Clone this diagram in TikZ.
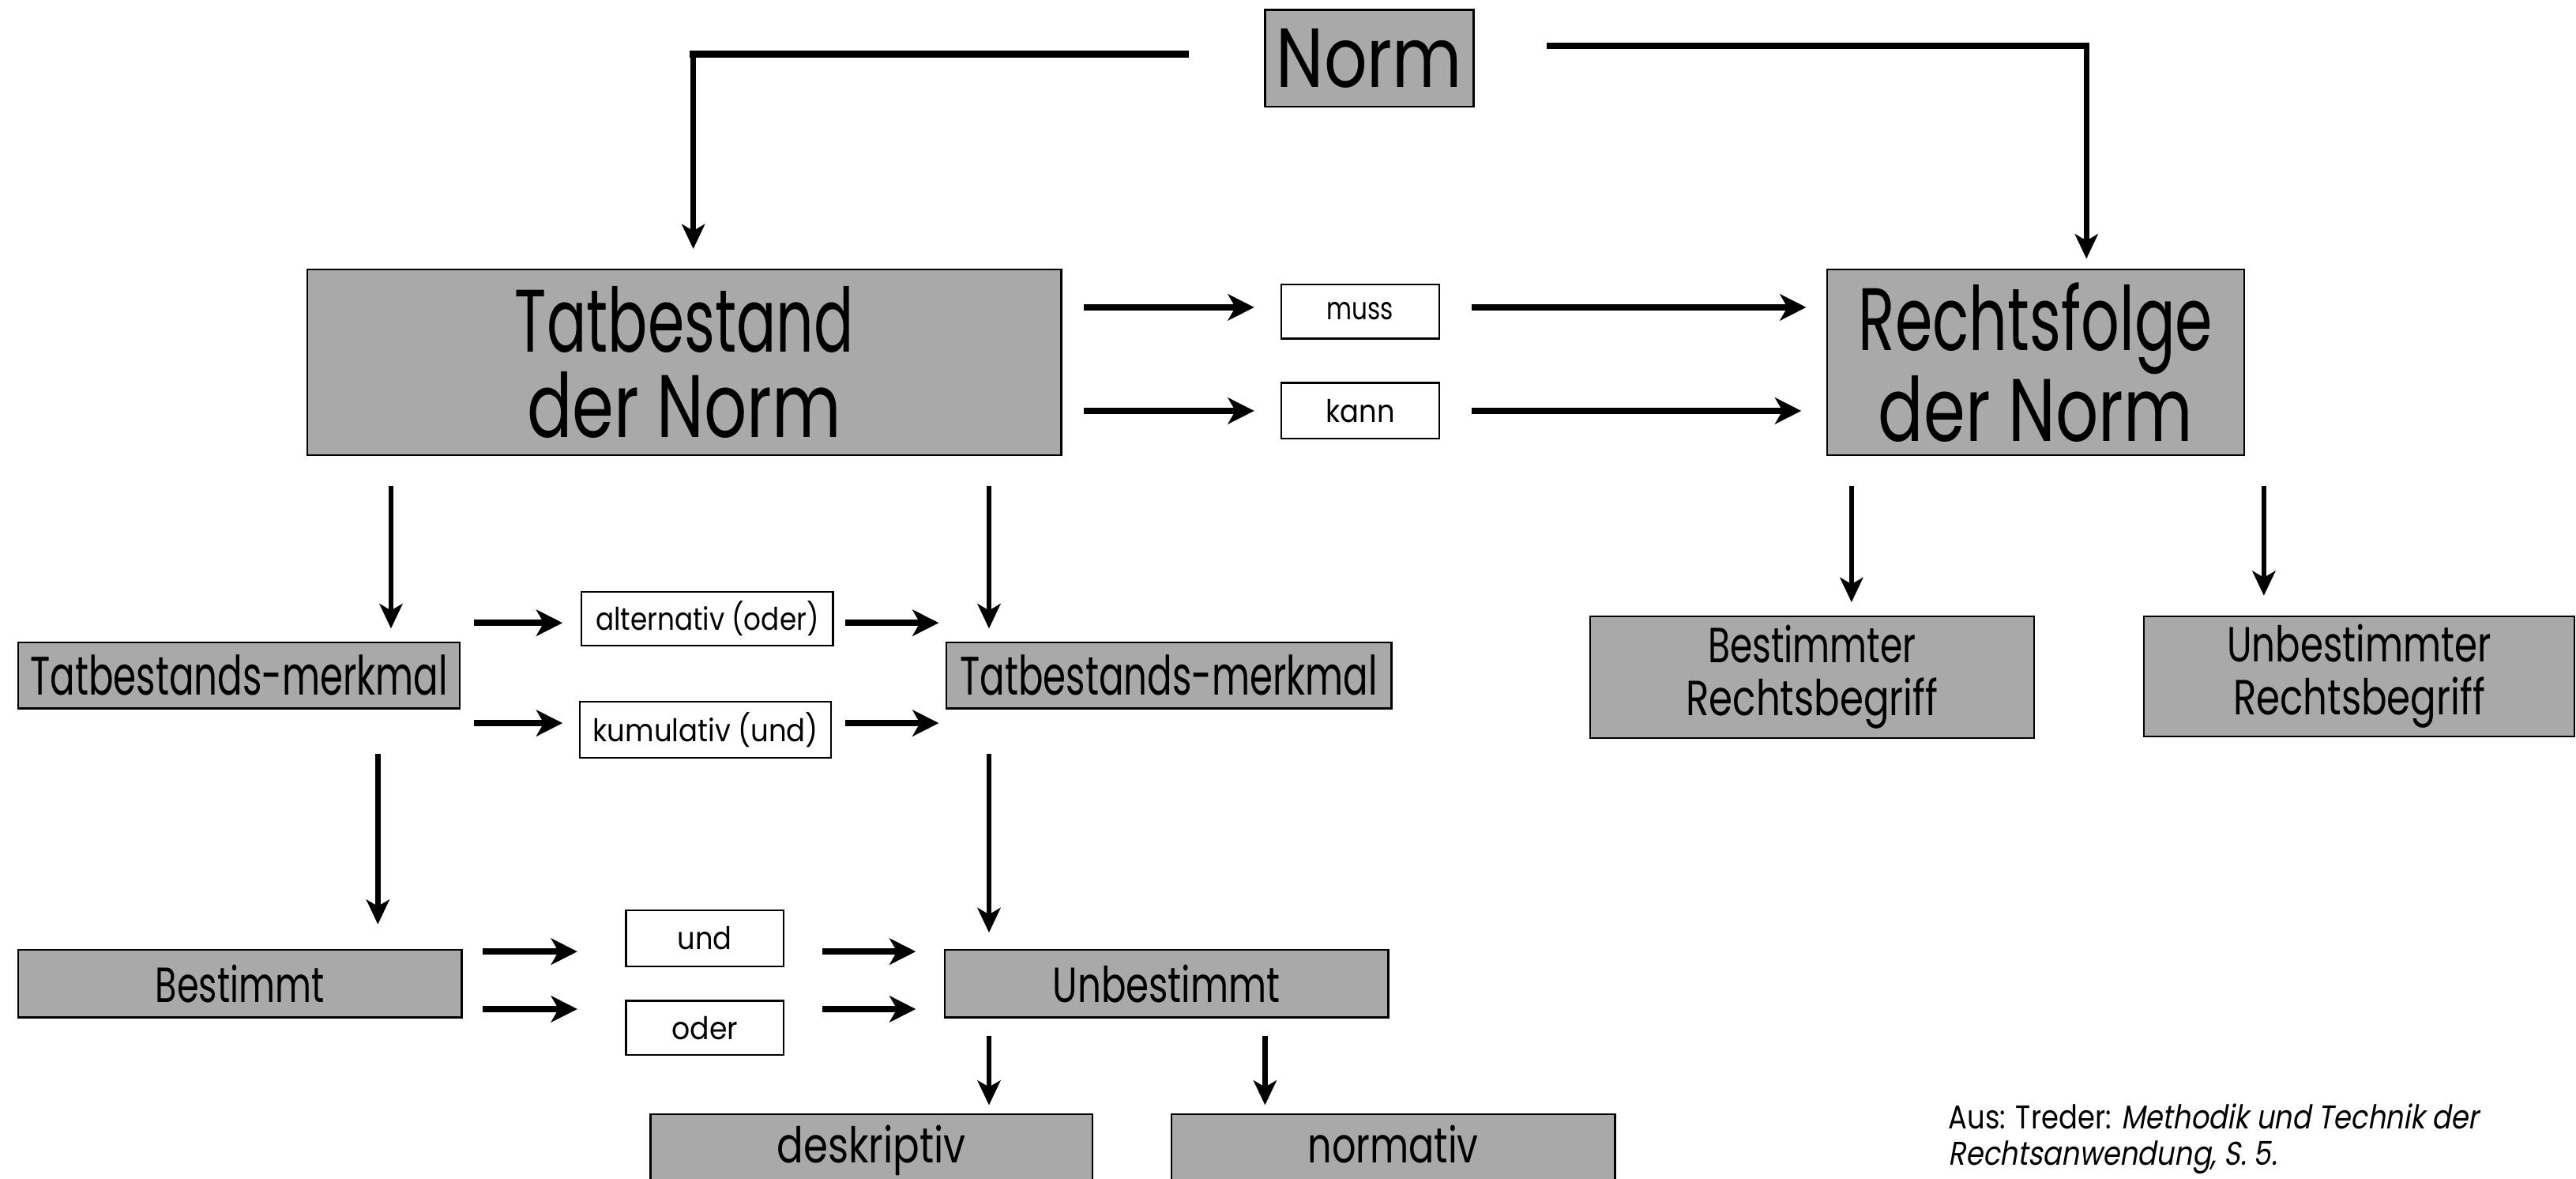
\documentclass[tikz,border=0pt]{standalone}
\usepackage{fontspec}
\setmainfont[FakeStretch=0.85]{Poppins}
\newfontfamily\citeit[FakeStretch=0.85,FakeSlant=0.18]{Poppins}
\usetikzlibrary{arrows.meta}
\definecolor{boxgray}{RGB}{169,169,169}
\newcommand{\fs}[1]{\fontsize{#1}{#1}\selectfont}
\newcommand{\sx}[2]{\scalebox{#1}[1]{#2}}
\begin{document}
\begin{tikzpicture}[x=1pt,y=-1pt,
  box/.style={draw=black,line width=1.1pt,fill=boxgray,inner sep=0pt,align=center},
  wbox/.style={draw=black,line width=1.1pt,fill=white,inner sep=0pt,font=\fs{19}},
  harr/.style={line width=4pt,-{Stealth[length=16pt,width=16pt,inset=4.5pt]}},
  varr/.style={line width=3.2pt,-{Stealth[length=15pt,width=14pt,inset=4pt]}},
  hline/.style={line width=4pt,line cap=rect}]
\useasboundingbox (0,0) rectangle (1568,717);
% main boxes
\node[box,minimum width=127pt,minimum height=59pt,font=\fs{51}] (norm) at (833.5,35.5) {\sx{0.95}{Norm}};
\node[box,minimum width=459pt,minimum height=113pt,font=\fontsize{54}{52}\selectfont] (tat) at (416.5,220.5) {\sx{0.78}{Tatbestand}\\\sx{0.89}{der Norm}};
\node[box,minimum width=254pt,minimum height=113pt,font=\fontsize{54}{52}\selectfont] (rf) at (1239,220.5) {\sx{0.8}{Rechtsfolge}\\\sx{0.89}{der Norm}};
\node[wbox,minimum width=96pt,minimum height=33pt] (muss) at (828,189.5) {\sx{0.925}{muss}};
\node[wbox,minimum width=96pt,minimum height=34pt] (kann) at (828,250) {\sx{1.05}{kann}};
\node[box,minimum width=269pt,minimum height=40pt,font=\fs{33}] (tm1) at (145.5,411) {\sx{0.8}{Tatbestands-merkmal}};
\node[box,minimum width=271pt,minimum height=40pt,font=\fs{33}] (tm2) at (711.5,411) {\sx{0.8}{Tatbestands-merkmal}};
\node[wbox,minimum width=153pt,minimum height=33pt] (alt) at (430.5,376.5) {\sx{1.02}{alternativ (oder)}};
\node[wbox,minimum width=153pt,minimum height=34pt] (kum) at (429.5,444) {\sx{1.056}{kumulativ (und)}};
\node[box,minimum width=270pt,minimum height=41pt,font=\fs{30}] (best) at (146,598.5) {\sx{0.84}{Bestimmt}};
\node[box,minimum width=270pt,minimum height=41pt,font=\fs{30}] (unbest) at (710,598.5) {\sx{0.88}{Unbestimmt}};
\node[wbox,minimum width=96pt,minimum height=34pt] (und) at (429,571) {\sx{1.05}{und}};
\node[wbox,minimum width=96pt,minimum height=33pt] (oder) at (429,625.5) {\sx{1.08}{oder}};
\node[box,minimum width=269pt,minimum height=46pt,font=\fs{30},text height=21pt,text depth=8pt] (desk) at (530.5,701) {\sx{0.94}{deskriptiv}};
\node[box,minimum width=270pt,minimum height=46pt,font=\fs{30},text height=21pt,text depth=8pt] (normat) at (848,701) {\sx{0.9}{normativ}};
\node[box,minimum width=270pt,minimum height=74pt,font=\fontsize{30}{32}\selectfont] (brb) at (1103,412) {\sx{0.86}{Bestimmter}\\\sx{0.91}{Rechtsbegriff}};
\node[box,minimum width=262pt,minimum height=73pt,font=\fontsize{30}{32}\selectfont] (urb) at (1436,411.5) {\sx{0.88}{Unbestimmter}\\\sx{0.91}{Rechtsbegriff}};
% citation
\node[anchor=base west,inner sep=0pt,font=\fs{20}] (cite1) at (1186,687) {Aus: Treder: {\citeit Methodik und Technik der}};
\node[anchor=base west,inner sep=0pt,font=\fs{20}] (cite2) at (1186,709) {\citeit Rechtsanwendung, S. 5.};
% Norm connectors
\coordinate (nL) at ([xshift=-48pt]norm.west |- 0,33);
\coordinate (cL) at (422,33);
\draw[hline] (nL) -- (cL);
\draw[varr,shorten >=12pt] (cL) -- (cL |- tat.north);
\coordinate (nR) at ([xshift=46pt]norm.east |- 0,28);
\coordinate (cR) at (1270,28);
\draw[hline] (nR) -- (cR);
\draw[varr,shorten >=6pt] (cR) -- (cR |- rf.north);
% muss / kann
\coordinate (m1) at ([yshift=2.5pt]muss.west);
\coordinate (m2) at ([yshift=2.5pt]muss.east);
\draw[harr,shorten <=13pt,shorten >=16pt] (tat.east |- m1) -- (m1);
\draw[harr,shorten <=19pt,shorten >=12pt] (m2) -- (m2 -| rf.west);
\draw[harr,shorten <=13pt,shorten >=16pt] (tat.east |- kann.west) -- (kann.west);
\draw[harr,shorten <=19pt,shorten >=15pt] (kann.east) -- (kann.east -| rf.west);
% Tatbestand down
\draw[varr,shorten <=18pt,shorten >=8pt] (tat.south -| 238,0) -- (tm1.north -| 238,0);
\draw[varr,shorten <=18pt,shorten >=8pt] (tat.south -| 602,0) -- (tm2.north -| 602,0);
% alternativ / kumulativ
\coordinate (a1) at ([yshift=-2.5pt]alt.west);
\coordinate (a2) at ([yshift=-2.5pt]alt.east);
\draw[harr,shorten <=8pt,shorten >=11pt] (tm1.east |- a1) -- (a1);
\draw[harr,shorten <=7pt,shorten >=4pt] (a2) -- (a2 -| tm2.west);
\coordinate (k1) at ([yshift=4pt]kum.west);
\coordinate (k2) at ([yshift=4pt]kum.east);
\draw[harr,shorten <=8pt,shorten >=10pt] (tm1.east |- k1) -- (k1);
\draw[harr,shorten <=8pt,shorten >=4pt] (k2) -- (k2 -| tm2.west);
% merkmal down
\draw[varr,shorten <=27pt,shorten >=15pt] (tm1.south -| 230,0) -- (best.north -| 230,0);
\draw[varr,shorten <=27pt,shorten >=10pt] (tm2.south -| 602,0) -- (unbest.north -| 602,0);
% und / oder
\coordinate (u1) at ([yshift=-8pt]und.west);
\coordinate (u2) at ([yshift=-8pt]und.east);
\draw[harr,shorten <=12pt,shorten >=29pt] (best.east |- u1) -- (u1);
\draw[harr,shorten <=23pt,shorten >=17pt] (u2) -- (u2 -| unbest.west);
\coordinate (o1) at ([yshift=11.5pt]oder.west);
\coordinate (o2) at ([yshift=11.5pt]oder.east);
\draw[harr,shorten <=12pt,shorten >=29pt] (best.east |- o1) -- (o1);
\draw[harr,shorten <=23pt,shorten >=17pt] (o2) -- (o2 -| unbest.west);
% Unbestimmt down
\draw[varr,shorten <=11pt,shorten >=5pt] (unbest.south -| 602,0) -- (desk.north -| 602,0);
\draw[varr,shorten <=11pt,shorten >=5pt] (unbest.south -| 770,0) -- (normat.north -| 770,0);
% Rechtsfolge down
\draw[varr,shorten <=18pt,shorten >=8pt] (rf.south -| 1127,0) -- (brb.north -| 1127,0);
\draw[varr,shorten <=18pt,shorten >=12pt] (rf.south -| 1378,0) -- (urb.north -| 1378,0);
\end{tikzpicture}
\end{document}
